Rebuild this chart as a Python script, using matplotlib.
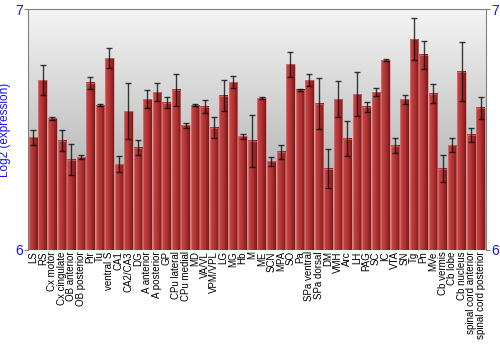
import numpy as np
import matplotlib
matplotlib.use("Agg")
import matplotlib.pyplot as plt
from matplotlib.colors import LinearSegmentedColormap

plt.rcParams['font.family'] = ['Liberation Sans', 'DejaVu Sans']

regions = ["LS", "RS", "Cx motor", "Cx cingulate", "OB anterior", "OB posterior", "Pir", "Tu",
           "ventral S", "CA1", "CA2/CA3", "DG", "A anterior", "A posterior", "GP", "CPu lateral",
           "CPu medial", "MD", "VA/VL", "VPM/VPL", "LG", "MG", "Hb", "M", "ME", "SCN", "MPA", "SO",
           "Pa", "SPa ventral", "SPa dorsal", "DM", "VMH", "Arc", "LH", "PAG", "SC", "IC", "VTA",
           "SN", "Tg", "Pn", "MVe", "Cb vermis", "Cb lobe", "Cb nucleus", "spinal cord anterior",
           "spinal cord posterior"]
expr = [6.467, 6.705, 6.547, 6.454, 6.374, 6.386, 6.694, 6.601, 6.796, 6.357, 6.577, 6.425,
        6.627, 6.656, 6.611, 6.665, 6.518, 6.601, 6.594, 6.508, 6.640, 6.697, 6.471, 6.453,
        6.631, 6.368, 6.407, 6.770, 6.665, 6.705, 6.607, 6.337, 6.626, 6.462, 6.647, 6.595,
        6.656, 6.787, 6.433, 6.626, 6.875, 6.810, 6.648, 6.337, 6.436, 6.740, 6.478, 6.590]
err = [0.033, 0.061, 0.006, 0.042, 0.064, 0.010, 0.026, 0.005, 0.041, 0.035, 0.118, 0.030,
       0.036, 0.039, 0.023, 0.067, 0.011, 0.003, 0.027, 0.042, 0.064, 0.025, 0.012, 0.109,
       0.003, 0.019, 0.030, 0.053, 0.005, 0.024, 0.105, 0.082, 0.075, 0.074, 0.091, 0.021,
       0.018, 0.004, 0.032, 0.019, 0.087, 0.058, 0.040, 0.056, 0.028, 0.122, 0.030, 0.047]

ymin, ymax = 6, 7
blue = '#1010ff'

fig = plt.figure(figsize=(5, 3.5), dpi=100)
ax = fig.add_axes([0.056, 0.286, 0.916, 0.688])

x = np.arange(len(regions))
w = 0.9
x0, x1 = -0.55, len(regions) - 0.45

# background: vertical gray gradient
bg = LinearSegmentedColormap.from_list('bg', ['#9c9c9c', '#f4f4f4'])
ax.imshow(np.linspace(0, 1, 256).reshape(-1, 1), cmap=bg, origin='lower', aspect='auto',
          extent=[x0, x1, ymin, ymax], zorder=0)

# bars with horizontal red gradient
redmap = LinearSegmentedColormap.from_list('red', ['#c84848', '#b23434', '#7c1818'])
grad = np.linspace(0, 1, 64).reshape(1, -1)
for xi, v in zip(x, expr):
    ax.imshow(grad, cmap=redmap, aspect='auto', zorder=2,
              extent=[xi - w / 2, xi + w / 2, ymin, v])
    ax.add_patch(plt.Rectangle((xi - w / 2, ymin), w, v - ymin, fill=False,
                               edgecolor='#e08080', lw=0.6, alpha=0.7, zorder=3))

ax.errorbar(x, expr, yerr=err, fmt='none', ecolor='black', elinewidth=1.0,
            capsize=2.2, capthick=1.0, alpha=0.75, zorder=4)

ax.set_xlim(x0, x1)
ax.set_ylim(ymin, ymax)

ax.set_xticks(x)
ax.set_xticklabels(regions, rotation=90, fontsize=7)
ax.tick_params(axis='x', length=0, pad=1)
ax.set_yticks([6, 7])
ax.tick_params(axis='y', colors='#808080', labelcolor=blue, labelsize=10, length=3,
               left=True, right=True, labelleft=True, labelright=True, pad=0.5)
ax.set_ylabel('Log2 (expression)', color=blue, fontsize=8.5, labelpad=3)
for s in ax.spines.values():
    s.set_color('#808080')
ax.spines['bottom'].set_visible(False)

fig.savefig('out.png', dpi=100)
